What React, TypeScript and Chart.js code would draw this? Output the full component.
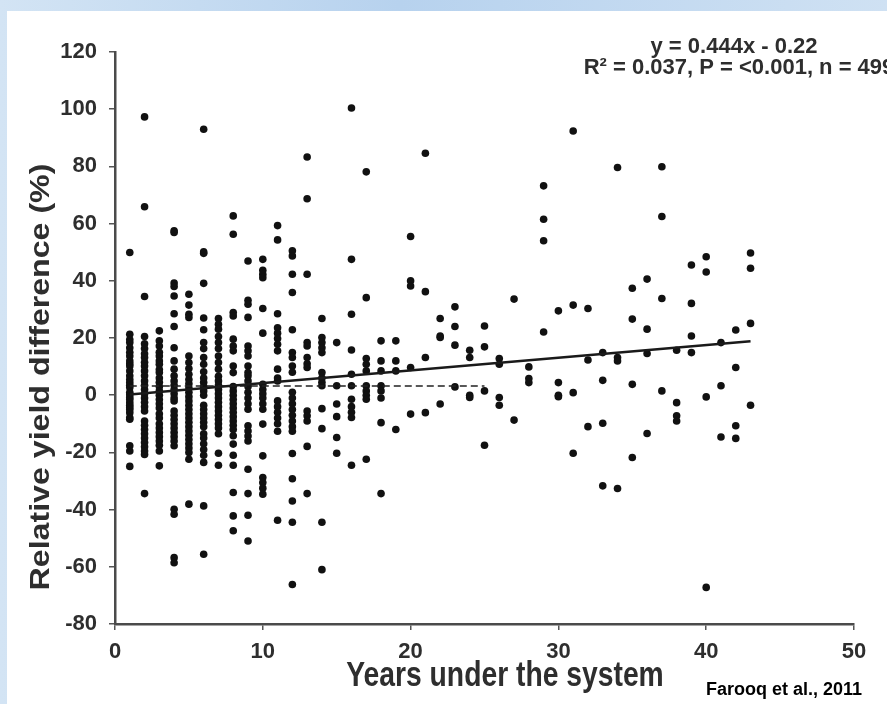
import React, { useEffect, useRef } from "react";
import { Chart, registerables } from "chart.js";

Chart.register(...registerables);

// ---- data ----
const years: number[] = Array.from({ length: 43 }, (_, i) => i + 1);

const valuesByYear: number[][] = [
  [49.9, 21.3, 19.5, 18.4, 16.6, 15, 13.7, 12, 11, 10.2, 8.5, 6.8, 5.5, 4.4, 3.5, 2.7, 1.0, 0.2, -0.8, -1.5, -2.6, -3.5, -4.3, -5, -6.1, -7.8, -8.4, -17.7, -19.5, -24.9],
  [97.3, 65.9, 34.5, 20.5, 18, 16.3, 14.5, 13.2, 11.5, 10.2, 8.5, 6.8, 5, 3.5, 2, 0.5, -1, -2.5, -4, -5.5, -9, -10.5, -12, -13.5, -15, -16.5, -18, -19.5, -20.7, -34.4],
  [22.5, 19, 17.2, 15, 13.7, 12, 10.8, 9, 7.9, 6, 4.5, 3, 1.5, 0, -1.5, -3, -4.5, -6.5, -8, -10, -11.5, -13, -14.5, -16, -17.5, -19.5, -24.7],
  [57.5, 56.9, 39.2, 38, 34.7, 28.5, 24, 16.6, 12, 9.1, 6.8, 5, 3.5, 2, 0.5, -1, -2, -5.5, -7, -8.5, -10, -11.5, -13, -14.5, -16, -17.7, -39.9, -41.6, -56.8, -58.6],
  [35.3, 31.5, 28.3, 27.2, 13.7, 11.4, 9.3, 7.3, 5.5, 4, 2.5, 1, -0.5, -2, -3.5, -5, -6.5, -8, -9.5, -11, -12.5, -14, -15.5, -17, -18.5, -20, -22.4, -38.1],
  [93, 50.1, 49.6, 39.1, 27, 22.9, 18.4, 16.3, 13.2, 10.8, 8.2, 6, 4.5, 3, 1.5, 0, -3.5, -5, -6.5, -8, -9.5, -11, -13.5, -15, -17, -19, -21, -23.5, -38.7, -55.6],
  [26.8, 24.8, 23.1, 20.5, 18.4, 16.3, 13.7, 11.4, 9.1, 6.6, 5, 3.5, 2, 0.5, -1, -2.5, -4, -5.5, -7, -8.5, -10, -11.5, -13.5, -20.3, -24.5],
  [62.7, 56.3, 28.9, 27.7, 19.6, 17.2, 15.5, 10.2, 7.9, 3, 1.5, 0, -1.5, -3, -4.5, -6, -7.5, -9, -10.5, -12, -14.2, -17.1, -21, -24.5, -34, -42.2, -47.4],
  [46.9, 33.2, 31.8, 27.2, 17.2, 15.5, 13.7, 10.2, 7.9, 6.8, 5, 3, 1, -1, -3, -4.9, -10.7, -12.5, -14.3, -16, -25.9, -34.4, -42, -51],
  [47.5, 43.7, 42.3, 41.1, 30.3, 21.7, 3.8, 2, 0.5, -1, -3, -4.9, -10.1, -21.2, -28.8, -30.5, -32.5, -34.6],
  [59.3, 54.3, 28.5, 23.6, 21.7, 19.8, 17.8, 15.5, 9.1, 6, 5, -2, -4, -6, -8, -10, -12.6, -43.7],
  [50.5, 48.7, 42.3, 35.9, 22.9, 14.9, 13.2, 10.2, 8, 1, -1, -3, -5, -7, -9, -11, -12.6, -20.4, -29.2, -37, -44.4, -66.2],
  [83.3, 68.7, 42.3, 18.4, 17.2, 13.2, 11, 9.7, -5.5, -7.2, -9, -17.9, -34.4],
  [26.8, 20.2, 18.4, 16.6, 14.9, 7.9, 6, 4.5, 3.3, -4.7, -11.7, -44.4, -61],
  [18.4, 3.3, -3.1, -7.5, -14.8, -20.3],
  [100.4, 47.5, 28.3, 15.8, 7.3, 3.3, -1.4, -4, -6, -7.8, -24.5],
  [78.1, 34.1, 12.8, 10.8, 8.5, 3.3, 1.5, 0, -1.4, -22.4],
  [19, 12, 8.5, 3.3, 1.5, -1, -9.6, -34.4],
  [19, 12, 8.5, -12],
  [55.5, 40, 38.2, 9.7, -6.6],
  [84.6, 36.2, 13.2, -6.1],
  [26.8, 20.7, 20.2, -3.1],
  [30.9, 24, 17.5, 2.9],
  [15.7, 13.2, 0, -0.8],
  [24.2, 16.9, 1.5, -17.5],
  [12.8, 10.8, -0.8, -3.5],
  [33.6, -8.7],
  [9.9, 5.8, 4.4],
  [73.2, 61.5, 54, 22.1],
  [29.5, 4.4, 0, -0.5],
  [92.4, 31.5, 0.9, -20.3],
  [30.3, 12.3, -11],
  [14.9, 5.2, -9.8, -31.7],
  [79.6, 13.2, 12, -32.6],
  [37.4, 26.6, 3.8, -21.8],
  [40.6, 23.1, 14.6, -13.4],
  [79.9, 62.5, 33.8, 1.5],
  [15.7, -2.6, -7.2, -9],
  [45.5, 32.1, 20.7, 14.9],
  [48.4, 43.1, -0.6, -67.2],
  [18.4, 3.3, -14.6],
  [22.8, 9.7, -10.7, -15.1],
  [49.7, 44.4, 25.1, -3.5],
];

const fitX: number[] = [1, 43];
const fitSlope = 0.444;
const fitIntercept = -0.22;
const dashedX: number[] = [1, 25];
const dashedY: number[] = [3.2, 3.2];

const xTicks: number[] = [0, 10, 20, 30, 40, 50];
const yTicks: number[] = [-80, -60, -40, -20, 0, 20, 40, 60, 80, 100, 120];

const equationLine1 = "y = 0.444x - 0.22";
const equationLine2 = "R\u00B2 = 0.037, P = <0.001, n = 499";
const xTitle = "Years under the system";
const yTitle = "Relative yield difference (%)";
const sourceNote = "Farooq et al., 2011";

const W = 887;
const H = 704;
const FONT = "'Liberation Sans', Arial, sans-serif";

const decorPlugin = {
  id: "decor",
  beforeDraw(chart: any) {
    const ctx = chart.ctx;
    ctx.save();
    const g = ctx.createLinearGradient(0, 0, W, 0);
    g.addColorStop(0, "#d3e4f4");
    g.addColorStop(0.45, "#b7d2ee");
    g.addColorStop(1, "#cfe1f3");
    ctx.fillStyle = g;
    ctx.fillRect(0, 0, W, H);
    ctx.fillStyle = "#ffffff";
    ctx.fillRect(7, 11, W - 7, H - 11);
    ctx.restore();
  },
  afterDraw(chart: any) {
    const ctx = chart.ctx;
    ctx.save();
    ctx.fillStyle = "#2e2e2e";
    ctx.textAlign = "center";
    ctx.textBaseline = "alphabetic";
    // y title (rotated, stretched along its length)
    ctx.save();
    ctx.translate(49, 377);
    ctx.rotate(-Math.PI / 2);
    ctx.scale(1.19, 1);
    ctx.font = `bold 27px ${FONT}`;
    ctx.fillText(yTitle, 0, 0);
    ctx.restore();
    // x title (vertically stretched)
    ctx.save();
    ctx.translate(505, 686);
    ctx.scale(1.01, 1.27);
    ctx.font = `bold 28px ${FONT}`;
    ctx.fillText(xTitle, 0, 0);
    ctx.restore();
    // equation
    ctx.font = `bold 22px ${FONT}`;
    ctx.fillText(equationLine1, 734, 53);
    ctx.fillText(equationLine2, 739, 74);
    // source note
    ctx.fillStyle = "#000000";
    ctx.font = `bold 18px ${FONT}`;
    ctx.fillText(sourceNote, 784, 695);
    ctx.restore();
  },
};

export default function App() {
  const ref = useRef<HTMLCanvasElement | null>(null);

  useEffect(() => {
    document.body.style.margin = "0";
    const points: { x: number; y: number }[] = [];
    years.forEach((yr, i) => {
      (valuesByYear[i] || []).forEach((v) => points.push({ x: yr, y: v }));
    });
    const fitLine = fitX.map((x) => ({ x, y: fitSlope * x + fitIntercept }));
    const dashLine = dashedX.map((x, i) => ({ x, y: dashedY[i] }));

    const tickFont = { family: FONT, size: 22, weight: "bold" as const };

    const chart = new Chart(ref.current as HTMLCanvasElement, {
      type: "scatter",
      data: {
        datasets: [
          {
            type: "scatter",
            data: points,
            pointRadius: 3.8,
            pointBackgroundColor: "#111111",
            pointBorderWidth: 0,
            pointHoverRadius: 3.8,
            order: 3,
          },
          {
            type: "line",
            data: dashLine,
            borderColor: "#222222",
            borderWidth: 1.6,
            borderDash: [7, 4],
            pointRadius: 0,
            fill: false,
            order: 1,
          },
          {
            type: "line",
            data: fitLine,
            borderColor: "#1a1a1a",
            borderWidth: 2.4,
            pointRadius: 0,
            fill: false,
            order: 0,
          },
        ],
      } as any,
      options: {
        animation: false,
        responsive: false,
        devicePixelRatio: 1,
        layout: { padding: { left: 0, top: 52, right: 33, bottom: 0 } },
        plugins: { legend: { display: false }, tooltip: { enabled: false }, title: { display: false } },
        scales: {
          x: {
            type: "linear",
            min: 0,
            max: 50,
            afterBuildTicks: (s: any) => {
              s.ticks = xTicks.map((v) => ({ value: v }));
            },
            afterFit: (s: any) => {
              s.height = 80;
            },
            ticks: { font: tickFont, color: "#2e2e2e", padding: 9, maxRotation: 0, autoSkip: false },
            grid: { drawOnChartArea: false, drawTicks: true, tickLength: 6, color: "#555555", lineWidth: 1.5 },
            border: { display: true, color: "#4a4a4a", width: 2.5 },
          },
          y: {
            type: "linear",
            min: -80,
            max: 120,
            afterBuildTicks: (s: any) => {
              s.ticks = yTicks.map((v) => ({ value: v }));
            },
            afterFit: (s: any) => {
              s.width = 115;
            },
            ticks: { font: tickFont, color: "#2e2e2e", padding: 12, autoSkip: false },
            grid: { drawOnChartArea: false, drawTicks: true, tickLength: 6, color: "#555555", lineWidth: 1.5 },
            border: { display: true, color: "#4a4a4a", width: 2.5 },
          },
        },
      } as any,
      plugins: [decorPlugin],
    });
    return () => chart.destroy();
  }, []);

  return (
    <div style={{ width: W, height: H }}>
      <canvas ref={ref} width={W} height={H} style={{ width: W, height: H, display: "block" }} />
    </div>
  );
}
